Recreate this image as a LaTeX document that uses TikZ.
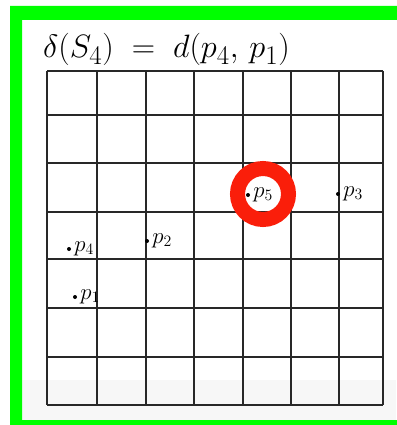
\documentclass[tikz,border=0pt]{standalone}
\usepackage{graphicx}
\usetikzlibrary{positioning}
\definecolor{ringred}{RGB}{250,30,10}
\definecolor{gridgray}{RGB}{40,40,40}
\begin{document}
\begin{tikzpicture}[x=1pt,y=-1pt,>=stealth,
	grid/.style={gridgray,line width=1.8pt},
	dot/.style={circle,fill=black,inner sep=0pt,minimum size=4pt},
	lbl/.style={anchor=mid west,inner sep=0pt,font=\fontsize{20.74}{24}\selectfont}]
			\useasboundingbox (0,0) rectangle (396,425);
			\fill[white] (0,0) rectangle (396,425);
			\fill[gray!6] (22,380) rectangle (396,420);
			\fill[green,even odd rule] (10,6) rectangle (400,426) (22,20) rectangle (400,420);
			\node[anchor=base west,inner sep=0pt,font=\fontsize{24.88}{30}\selectfont] (title) at (43,58) {\scalebox{1.3}{$\delta(S_4)\;=\;d(p_4,\,p_1)$}};
			\foreach \x in {47,97,146,194,243,291,339,383} \draw[grid] (\x,71)--(\x,405);
			\foreach \y in {71,115,163,212,259,308,357,405} \draw[grid] (47,\y)--(383,\y);
			\node[dot] (p1) at (75,297) {};
			\node[dot] (p2) at (147,241) {};
			\node[dot] (p3) at (338,194) {};
			\node[dot] (p4) at (69,249) {};
			\node[dot] (p5) at (248,195) {};
			\foreach \i in {1,...,5} \node[lbl] (p\i l) at ([xshift=3pt]p\i.east) {\scalebox{1.1}{$p_{\i}$}};
			\node[circle,draw=ringred,line width=15pt,minimum size=51pt,inner sep=0pt] (mark) at (263,194) {};
		\end{tikzpicture}
\end{document}
